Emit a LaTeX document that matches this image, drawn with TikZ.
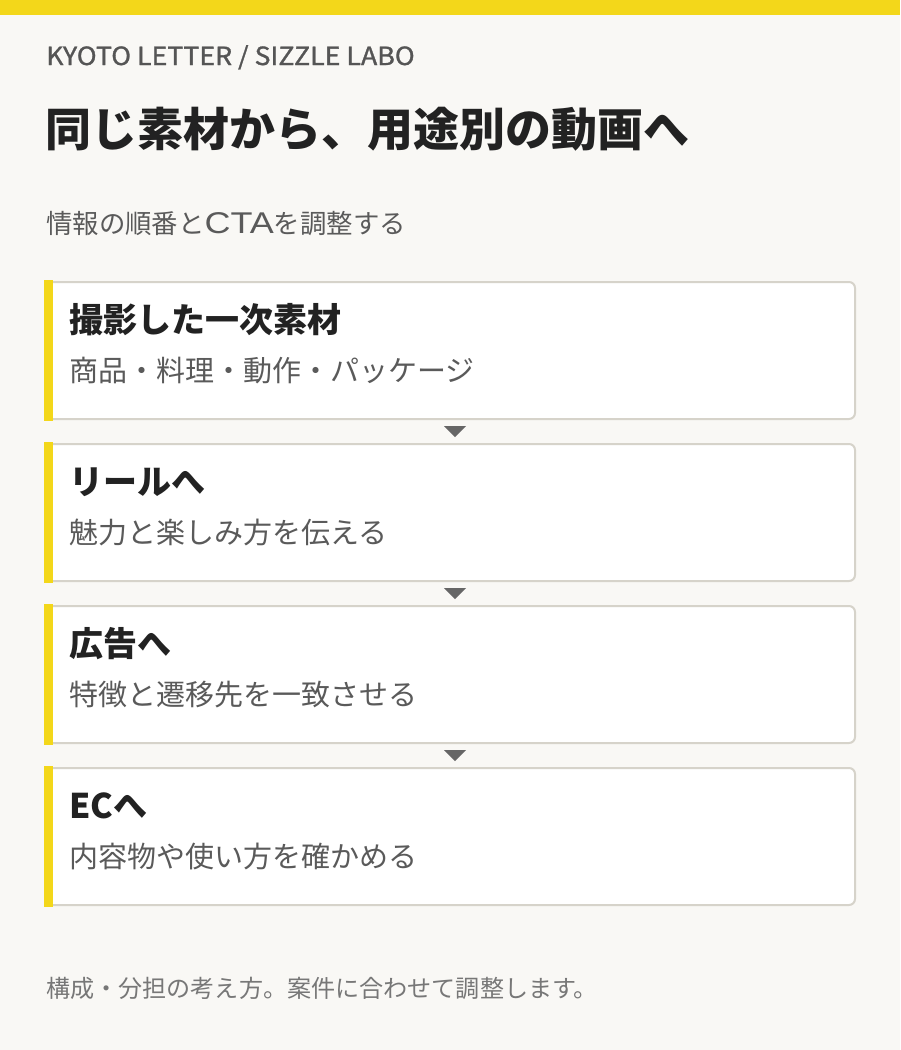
\documentclass[tikz,border=0pt]{standalone}
\usepackage{fontspec}
\usetikzlibrary{calc}
\setmainfont{Noto Sans CJK JP}
\newfontfamily\hdrfont[FakeBold=1.2,FakeStretch=1.07]{Noto Sans CJK JP}
\newfontfamily\latfont[FakeStretch=1.2]{Liberation Sans}
\definecolor{bgc}{HTML}{F9F8F5}
\definecolor{yel}{HTML}{F3D71A}
\definecolor{bordc}{HTML}{D6D3CA}
\definecolor{ink}{HTML}{222222}
\definecolor{subc}{HTML}{5A5A5A}
\definecolor{hdrc}{HTML}{555555}
\definecolor{footc}{HTML}{777777}
\definecolor{tric}{HTML}{666666}
\tikzset{
  stagebox/.style={draw=bordc, line width=2pt, fill=white, rounded corners=6pt,
    minimum width=810pt, minimum height=137pt, inner sep=0pt},
  boxtitle/.style={anchor=base west, inner sep=0pt, text=ink, font=\bfseries\fontsize{34}{40}\selectfont},
  boxsub/.style={anchor=base west, inner sep=0pt, text=subc, font=\fontsize{29}{34}\selectfont},
  tri/.style={fill=tric},
}
\begin{document}
\begin{tikzpicture}[x=1pt,y=-1pt]
\useasboundingbox (0,0) rectangle (900,1050);
\fill[bgc] (0,0) rectangle (900,1050);
\fill[yel] (0,0) rectangle (900,15);
\node[anchor=base west, inner sep=0pt, text=hdrc, font=\hdrfont\fontsize{25}{30}\selectfont] (hdr) at (46,65) {KYOTO LETTER / SIZZLE LABO};
\node[anchor=base west, inner sep=0pt, text=ink, font=\bfseries\fontsize{46}{54}\selectfont] (title) at (45,146) {同じ素材から、用途別の動画へ};
\node[anchor=base west, inner sep=0pt, text=subc, font=\fontsize{26.4}{32}\selectfont] (sub) at (46,233) {情報の順番と{\latfont\fontsize{30}{32}\selectfont CTA}を調整する};
\foreach \i/\y/\t/\s in {1/350.5/撮影した一次素材/商品・料理・動作・パッケージ,
                          2/512.5/リールへ/魅力と楽しみ方を伝える,
                          3/674.5/広告へ/特徴と遷移先を一致させる,
                          4/836.5/ECへ/内容物や使い方を確かめる}{
  \node[stagebox] (b\i) at (450,\y) {};
  \fill[yel] ([yshift=1pt]b\i.north west) rectangle ([xshift=9pt,yshift=-1pt]b\i.south west);
  \node[boxtitle] (t\i) at (69,\y-18) {\t};
  \node[boxsub] (s\i) at (69,\y+31) {\s};
}
\foreach \a/\b in {1/2,2/3,3/4}{
  \coordinate (m\a) at ($(b\a.south)!0.5!(b\b.north)$);
  \fill[tri] ([xshift=-6pt,yshift=5.5pt]m\a) -- ([xshift=16pt,yshift=5.5pt]m\a) -- ([xshift=5pt,yshift=-5.5pt]m\a) -- cycle;
}
\node[anchor=base west, inner sep=0pt, text=footc, font=\fontsize{24.1}{30}\selectfont] (foot) at (46,997) {構成・分担の考え方。案件に合わせて調整します。};
\end{tikzpicture}
\end{document}
